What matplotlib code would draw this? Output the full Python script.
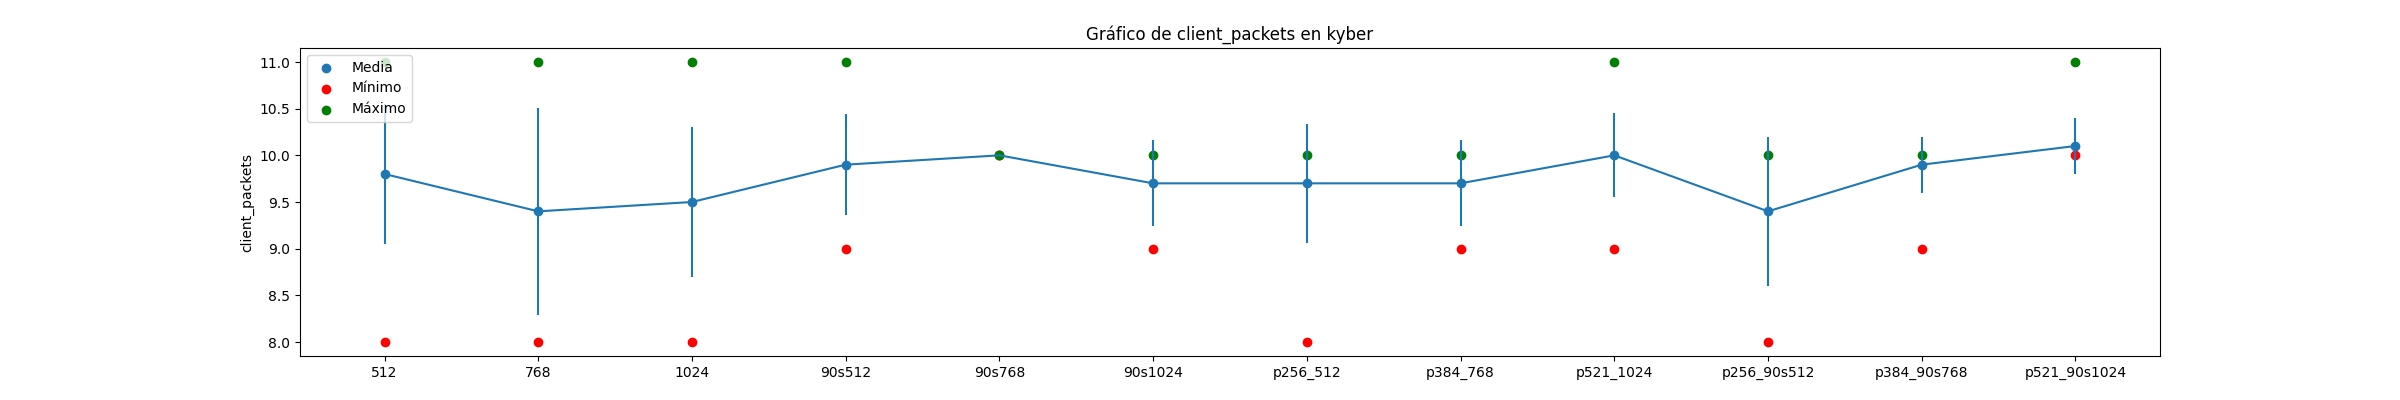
import numpy as np
import matplotlib
matplotlib.use("Agg")
import matplotlib.pyplot as plt

# Data
categories = ["512", "768", "1024", "90s512", "90s768", "90s1024",
              "p256_512", "p384_768", "p521_1024", "p256_90s512",
              "p384_90s768", "p521_90s1024"]
media = [9.8, 9.4, 9.5, 9.9, 10.0, 9.7, 9.7, 9.7, 10.0, 9.4, 9.9, 10.1]
desviacion = [0.75, 1.11, 0.80, 0.54, 0.0, 0.46, 0.64, 0.46, 0.45, 0.80, 0.30, 0.30]
minimo = [8, 8, 8, 9, 10, 9, 8, 9, 9, 8, 9, 10]
maximo = [11, 11, 11, 11, 10, 10, 10, 10, 11, 10, 10, 11]

x = np.arange(len(categories))

fig, ax = plt.subplots(figsize=(24, 4), dpi=100)

ax.errorbar(x, media, yerr=desviacion, fmt="-", color="tab:blue")
ax.scatter(x, media, color="tab:blue", label="Media")
ax.scatter(x, minimo, color="red", label="Mínimo")
ax.scatter(x, maximo, color="green", label="Máximo")

ax.set_xticks(x)
ax.set_xticklabels(categories)
ax.set_ylabel("client_packets")
ax.set_title("Gráfico de client_packets en kyber")
ax.legend(loc="upper left")

plt.savefig("out.png")
